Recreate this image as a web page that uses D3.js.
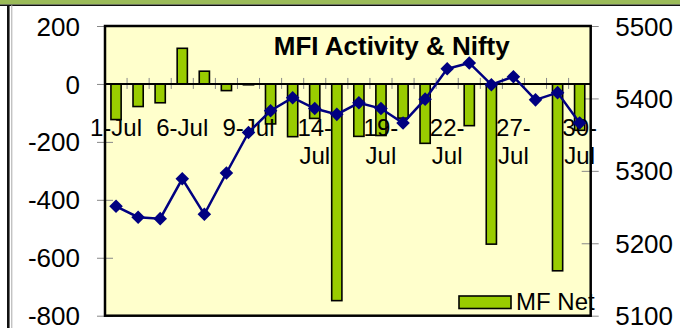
<!DOCTYPE html>
<html>
<head>
<meta charset="utf-8">
<script src="https://cdn.jsdelivr.net/npm/d3@7"></script>
<style>
  body { margin: 0; background: #fff; }
  text { font-family: "Liberation Sans", Arial, sans-serif; }
</style>
</head>
<body>
<div id="my_dataviz"></div>
<script>
// trading days, July
var dates = ["1-Jul","2-Jul","5-Jul","6-Jul","7-Jul","8-Jul","9-Jul","12-Jul","13-Jul","14-Jul","15-Jul",
  "16-Jul","19-Jul","20-Jul","21-Jul","22-Jul","23-Jul","26-Jul","27-Jul","28-Jul","29-Jul","30-Jul"];
// MF net (bars, left axis)
var mfNet = [-123,-78,-65,123,44,-23,-3,-138,-182,-119,-748,-181,-178,-118,-205,0,-144,-553,0,0,-645,-160];
// Nifty close (line, right axis)
var nifty = [5251,5236,5234,5289,5240,5297,5353,5383,5401,5386,5378,5394,5386,5366,5399,5441,5449,5419,5430,5398,5408,5366];

var leftTicks = [200,0,-200,-400,-600,-800];
var rightTicks = [5500,5400,5300,5200,5100];
// only every third date is labelled
var xLabels = [
  {date: "1-Jul", lines: ["1-Jul"]},
  {date: "6-Jul", lines: ["6-Jul"]},
  {date: "9-Jul", lines: ["9-Jul"]},
  {date: "14-Jul", lines: ["14-","Jul"]},
  {date: "19-Jul", lines: ["19-","Jul"]},
  {date: "22-Jul", lines: ["22-","Jul"]},
  {date: "27-Jul", lines: ["27-","Jul"]},
  {date: "30-Jul", lines: ["30-","Jul"]}
];

var W = 680, H = 328;
var pLeft = 105, pRight = 590.7, pTop = 26, pBottom = 315.7;

var svg = d3.select("#my_dataviz")
  .append("svg")
  .attr("width", W)
  .attr("height", H);

// page frame bits
svg.append("rect").attr("x",0).attr("y",0).attr("width",W).attr("height",4.5).style("fill","#9BBB59");
svg.append("line").attr("x1",0).attr("x2",W).attr("y1",5.2).attr("y2",5.2)
  .style("stroke","#111").style("stroke-width","1.6px");
svg.append("line").attr("x1",8.3).attr("x2",8.3).attr("y1",5).attr("y2",H)
  .style("stroke","#111").style("stroke-width","2.6px");
svg.append("line").attr("x1",11.8).attr("x2",11.8).attr("y1",5).attr("y2",H)
  .style("stroke","#aaa").style("stroke-width","1px");

var x = d3.scaleBand().domain(dates).range([pLeft, pRight]).padding(0);
var yL = d3.scaleLinear().domain([-800, 200]).range([pBottom, pTop]);
var yR = d3.scaleLinear().domain([5100, 5500]).range([pBottom, pTop]);
var plain = function(d){ return String(d); };

// plot area
svg.append("rect")
  .attr("x", pLeft).attr("y", pTop)
  .attr("width", pRight-pLeft).attr("height", pBottom-pTop)
  .style("fill","#FFFFCC");

// left axis
var axL = svg.append("g")
  .attr("transform","translate("+pLeft+",0)")
  .call(d3.axisLeft(yL).tickValues(leftTicks).tickFormat(plain).tickSizeOuter(0));
axL.select(".domain").remove();
axL.selectAll(".tick line").attr("x1",-8).attr("x2",8).style("stroke","#888");
axL.selectAll(".tick text").attr("x",-25).attr("dy","0.35em")
  .style("font-size","26px").style("fill","#000");

// right axis
var axR = svg.append("g")
  .attr("transform","translate("+pRight+",0)")
  .call(d3.axisRight(yR).tickValues(rightTicks).tickFormat(plain).tickSizeOuter(0));
axR.select(".domain").remove();
axR.selectAll(".tick line").attr("x1",-9).attr("x2",8).style("stroke","#888");
axR.selectAll(".tick text").attr("x",24.5).attr("dy","0.35em")
  .style("font-size","26px").style("fill","#000");

// title
svg.append("text")
  .text("MFI Activity & Nifty")
  .attr("x", 391.7).attr("y", 55)
  .attr("text-anchor","middle")
  .style("font-size","26px").style("font-weight","bold");

// bars
var bw = 10.2;
dates.forEach(function(d, i){
  var v = mfNet[i];
  svg.append("rect")
    .attr("x", x(d) + x.bandwidth()/2 - bw/2)
    .attr("y", yL(Math.max(0, v)))
    .attr("width", bw)
    .attr("height", Math.abs(yL(v) - yL(0)))
    .style("fill","#99CC00")
    .style("stroke","#000")
    .style("stroke-width","1.6px");
});

// category axis on zero line
var axX = svg.append("g")
  .attr("transform","translate(0,"+yL(0)+")");
dates.slice(1).forEach(function(d){
  axX.append("line")
    .attr("x1", x(d)).attr("x2", x(d))
    .attr("y1", -6).attr("y2", 5)
    .style("stroke","#888").style("stroke-width","1px");
});
axX.append("line")
  .attr("x1", pLeft).attr("x2", pRight)
  .attr("y1", 0).attr("y2", 0)
  .style("stroke","#000").style("stroke-width","2px");

xLabels.forEach(function(l){
  var t = svg.append("text")
    .attr("text-anchor","middle")
    .style("font-size","24px");
  l.lines.forEach(function(s, j){
    t.append("tspan")
      .attr("x", x(l.date) + x.bandwidth()/2)
      .attr("y", 135.5 + j*28)
      .text(s);
  });
});

// plot border
svg.append("rect")
  .attr("x", pLeft).attr("y", pTop)
  .attr("width", pRight-pLeft).attr("height", pBottom-pTop)
  .style("fill","none").style("stroke","#000").style("stroke-width","2.5px");

// nifty line
var line = d3.line()
  .x(function(d, i){ return x(dates[i]) + x.bandwidth()/2; })
  .y(function(d){ return yR(d); });

svg.append("path")
  .datum(nifty)
  .attr("d", line)
  .style("fill","none")
  .style("stroke","#000080")
  .style("stroke-width","2.5px");

var diamond = d3.symbol().type(d3.symbolSquare).size(92);
nifty.forEach(function(v, i){
  svg.append("path")
    .attr("d", diamond)
    .attr("transform","translate("+(x(dates[i]) + x.bandwidth()/2)+","+yR(v)+") rotate(45)")
    .style("fill","#000080");
});

// legend
svg.append("rect")
  .attr("x", 459).attr("y", 296)
  .attr("width", 52).attr("height", 12.5)
  .style("fill","#99CC00").style("stroke","#000").style("stroke-width","1.6px");
svg.append("text")
  .text("MF Net")
  .attr("x", 516).attr("y", 309.5)
  .style("font-size","24px");
</script>
</body>
</html>
